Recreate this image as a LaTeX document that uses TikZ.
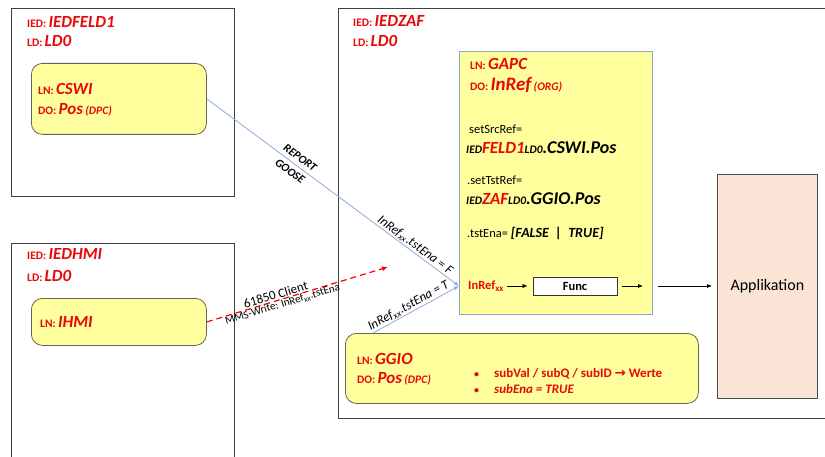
\documentclass[tikz,border=0pt]{standalone}
\usepackage{fontspec}
\setmainfont{Carlito}
\newfontfamily\arrowfont{DejaVu Sans}
\usetikzlibrary{arrows.meta}
\definecolor{iedred}{RGB}{232,8,8}
\definecolor{lnfill}{RGB}{255,255,158}
\definecolor{lnframe}{RGB}{100,100,80}
\definecolor{gapcframe}{RGB}{140,165,200}
\definecolor{linkblue}{RGB}{143,170,220}
\definecolor{appfill}{RGB}{250,228,214}
\newcommand\pre[1]{{\fontsize{11.5}{13}\selectfont #1}}
\newcommand\nam[1]{{\fontsize{17}{19}\selectfont\itshape #1}}
\tikzset{
  box/.style={anchor=north west, inner sep=0pt, minimum width=#1},
  iedbox/.style={draw=black!75, line width=1pt},
  lnbox/.style={draw=lnframe, fill=lnfill, rounded corners=11pt, line width=0.8pt},
  gapcbox/.style={draw=gapcframe, fill=lnfill, line width=0.8pt},
  txt/.style={anchor=base west, inner sep=0pt, font=\bfseries, text=iedred},
  plain/.style={anchor=base west, inner sep=0pt, font=\fontsize{12.5}{14}\selectfont},
  link/.style={draw=linkblue, line width=0.8pt, -{Latex[length=5pt,width=4pt]}},
  mms/.style={draw=red, line width=1.2pt, dash pattern=on 6pt off 4pt, -{Latex[length=6pt,width=5pt]}},
  flow/.style={draw=black, line width=0.7pt, -{Latex[length=5pt,width=4pt]}},
  tag/.style={sloped, inner sep=1pt, font=\fontsize{11}{14}\selectfont}
}

\begin{document}
\begin{tikzpicture}[x=1pt, y=-1pt]
\useasboundingbox (0,0) rectangle (825,457);
\clip (0,0) rectangle (825,457);

% IEDs
\node[iedbox, box=223pt, minimum height=188pt] (feld1) at (11,8) {};
\node[iedbox, box=223pt, minimum height=230pt] (hmi) at (11,243) {};
\node[iedbox, box=510pt, minimum height=410pt] (zaf) at (338,8) {};

% logical nodes
\node[lnbox, box=175pt, minimum height=71pt] (cswi) at (31,63) {};
\node[lnbox, box=175pt, minimum height=47pt] (ihmi) at (31,298) {};
\node[gapcbox, box=193pt, minimum height=263pt] (gapc) at (459,51) {};
\node[lnbox, box=353pt, minimum height=70pt] (ggio) at (345,333) {};
\node[draw=black!70, fill=appfill, line width=0.8pt, box=100pt, minimum height=224pt] (app) at (717,174) {};
\node[font=\fontsize{16}{18}\selectfont] (applabel) at (app.center) {Applikation};

\node[txt] (feld1ied) at (27,28) {\pre{IED:} \nam{IEDFELD1}};
\node[txt] (feld1ld) at (27,47) {\pre{LD:} \nam{LD0}};
\node[txt] (cswiln) at (38,95) {\pre{LN:} \nam{CSWI}};
\node[txt] (cswido) at (38,115) {\pre{DO:} \nam{Pos} \pre{\itshape (DPC)}};

\node[txt] (hmiied) at (27,260) {\pre{IED:} \nam{IEDHMI}};
\node[txt] (hmild) at (27,281) {\pre{LD:} \nam{LD0}};
\node[txt] (ihmiln) at (40,327) {\pre{LN:} \nam{IHMI}};

\node[txt] (zafied) at (353,27) {\pre{IED:} \nam{IEDZAF}};
\node[txt] (zafld) at (353,47) {\pre{LD:} \nam{LD0}};

\node[txt] (gapcln) at (470,70) {\pre{LN:} \nam{GAPC}};
\node[txt] (gapcdo) at (470,91) {\pre{DO:} {\fontsize{19}{21}\selectfont\itshape InRef} \pre{\itshape (ORG)}};
\node[plain] (srcref) at (469,134) {setSrcRef=};
\node[txt, text=black] (srcpath) at (466,154)
  {\itshape\pre{IED}\nam{\textcolor{iedred}{FELD1}}\pre{LD0}{\fontsize{18}{20}\selectfont .CSWI.Pos}};
\node[plain] (tstref) at (467,185) {.setTstRef=};
\node[txt, text=black] (tstpath) at (466,205)
  {\itshape\pre{IED}\nam{\textcolor{iedred}{ZAF}}\pre{LD0}{\fontsize{18}{20}\selectfont .GGIO.Pos}};
\node[plain] (tstena) at (467,238)
  {.tstEna= {\fontsize{14}{16}\selectfont\bfseries\itshape [FALSE~ |~ TRUE]}};
\node[txt, font=\bfseries\fontsize{12.5}{14}\selectfont] (inref) at (468,290) {InRef\textsubscript{xx}};
\node[draw=black!80, fill=white, line width=0.8pt, minimum width=84pt, minimum height=18pt,
  inner sep=0pt, font=\bfseries\fontsize{12.5}{14}\selectfont] (func) at (575,286) {Func};
\coordinate (funcout) at (643,286);

\node[txt] (ggioln) at (357,364) {\pre{LN:} \nam{GGIO}};
\node[txt] (ggiodo) at (357,383) {\pre{DO:} \nam{Pos} \pre{\itshape (DPC)}};
\node[txt] (dot1) at (474,377) {\textbullet};
\node[txt, font=\bfseries\fontsize{13}{15}\selectfont] (subval) at (494,377)
  {subVal / subQ / subID {\arrowfont\fontsize{13.5}{15}\selectfont →} Werte};
\node[txt] (dot2) at (474,393) {\textbullet};
\node[txt, font=\bfseries\itshape\fontsize{13}{15}\selectfont] (subena) at (494,393) {subEna = TRUE};

% links
\coordinate (ggiotop) at (373,333);
\coordinate (mmsend) at (388,267);
\draw[link] (cswi.east) --
  node[tag, pos=0.35, align=center, font=\bfseries\itshape\fontsize{11.5}{17}\selectfont] (rgoose) {REPORT\\GOOSE}
  node[tag, pos=0.81, above, font=\itshape\fontsize{13}{15}\selectfont] (tstf) {InRef\textsubscript{xx}.tstEna = F}
  (gapc.west |- func.west);
\draw[link] (ggiotop) --
  node[tag, pos=0.45, above, font=\itshape\fontsize{13}{15}\selectfont] (tstt) {InRef\textsubscript{xx}.tstEna = T}
  (gapc.west |- func.west);
\draw[mms] (ihmi.east) --
  node[tag, pos=0.39, above, font=\fontsize{13}{15}\selectfont] (client) {61850 Client}
  node[tag, pos=0.41, below, inner sep=0pt, font=\fontsize{11}{13}\selectfont] (mmswrite) {MMS-Write: InRef\textsubscript{xx}.tstEna}
  (mmsend);

\draw[flow, line width=0.5pt, shorten <=3pt, shorten >=5pt] (inref.east |- func.west) -- (func.west);
\draw[flow, shorten <=5pt] (func.east) -- (funcout);
\draw[flow, shorten <=5pt, shorten >=5pt] (gapc.east |- func.east) -- (app.west |- func.east);
\end{tikzpicture}
\end{document}
